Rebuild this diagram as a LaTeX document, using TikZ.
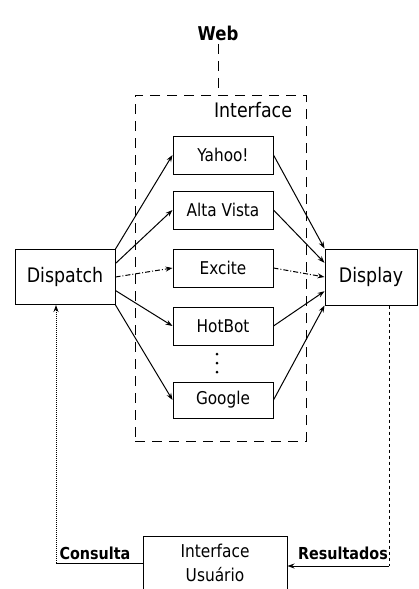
\documentclass[tikz,border=0pt]{standalone}
\usepackage{fontspec}
\setmainfont{DejaVu Sans}[FakeStretch=0.87]
\usetikzlibrary{arrows.meta}
\tikzset{
  engine/.style={draw, line width=1pt, minimum width=100pt, minimum height=38pt, inner sep=0pt, font=\fontsize{17.6}{20}\selectfont},
  block/.style={draw, line width=1pt, inner sep=0pt, font=\fontsize{20}{24}\selectfont},
  flow/.style={line width=1pt, -{Stealth[length=7pt,width=5pt]}},
  flowdash/.style={flow, dash pattern=on 5pt off 2pt on 1pt off 2pt},
  frameline/.style={line width=1pt, dash pattern=on 10pt off 7pt},
  tag/.style={font=\bfseries\fontsize{16.5}{20}\selectfont}
}
\begin{document}
\begin{tikzpicture}[x=1pt, y=-1pt]
    \useasboundingbox (0,0) rectangle (418,589);
    % web and the interface frame
    \node[font=\bfseries\fontsize{19}{22}\selectfont] (web) at (218,33) {Web};
    \node[frameline, draw, minimum width=171pt, minimum height=346pt] (frame) at (220.5,268) {};
    \node[font=\fontsize{20}{24}\selectfont] (ifc) at (253,110) {Interface};
    \draw[frameline] (web.south) -- (frame.north -| web.south);

    % search engines
    \node[engine] (yahoo) at (223,155) {Yahoo!};
    \node[engine] (alta) at (223,210) {Alta Vista};
    \node[engine] (excite) at (223,268) {Excite};
    \node[engine] (hotbot) at (223,326) {HotBot};
    \foreach \k in {0,1,2}
        \fill (217,354+9*\k) circle (1.5pt);
    \node[engine, minimum height=36pt] (google) at (223,400) {Google};

    % dispatch and display
    \node[block, minimum width=100pt, minimum height=55pt] (dsp) at (65,277) {Dispatch};
    \node[block, minimum width=92pt, minimum height=56pt] (dis) at (371,277) {Display};

    \draw[flow] (dsp.north east) -- (yahoo.west);
    \draw[flow] (dsp.15) -- (alta.west);
    \draw[flowdash] (dsp.east) -- (excite.west);
    \draw[flow] (dsp.-15) -- (hotbot.west);
    \draw[flow] (dsp.south east) -- (google.west);

    \draw[flow] (yahoo.east) -- (dis.north west);
    \draw[flow] (alta.east) -- (dis.163);
    \draw[flowdash] (excite.east) -- (dis.west);
    \draw[flow] (hotbot.east) -- (dis.197);
    \draw[flow] (google.east) -- (dis.south west);

    % user interface
    \node[draw, line width=1pt, minimum width=144pt, minimum height=54pt, align=center,
          font=\fontsize{17.7}{24}\selectfont] (iu) at (215,563) {Interface\\Usuário};
    \node[tag] (cons) at (95,553) {Consulta};
    \node[tag] (res) at (343,553) {Resultados};
    \coordinate (cturn) at (56,563);
    \coordinate (rturn) at (389,566);
    \draw[line width=1pt] (iu.west |- cturn) -- (cturn);
    \draw[flow, densely dotted] (cturn) -- (cturn |- dsp.south);
    \draw[line width=1pt, dashed] (dis.south -| rturn) -- (rturn);
    \draw[flow] (rturn) -- (iu.east |- rturn);
\end{tikzpicture}
\end{document}
